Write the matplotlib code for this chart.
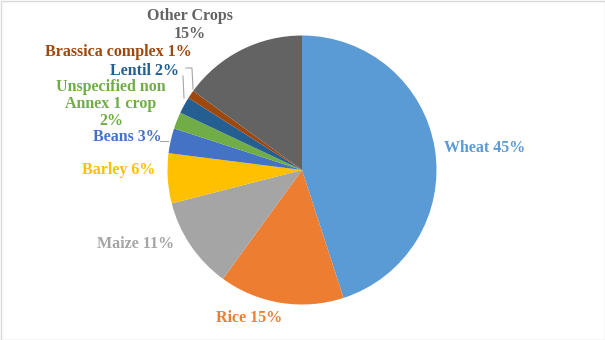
import matplotlib.pyplot as plt
from matplotlib.patches import Rectangle

# crop shares (%), clockwise from 12 o'clock
crops = ['Wheat', 'Rice', 'Maize', 'Barley', 'Beans',
         'Unspecified non\nAnnex 1 crop\n', 'Lentil', 'Brassica complex', 'Other Crops\n']
shares = [45, 15, 11, 6, 3, 2, 2, 1, 15]
colors = ['#5B9BD5', '#ED7D31', '#A5A5A5', '#FFC000', '#4472C4',
          '#70AD47', '#255E91', '#9E480E', '#636363']

# label positions in pixels (x, y from top)
label_pos = [(485, 148), (249, 318), (136, 244), (119, 170), (127, 137),
             (111, 104), (145, 71), (118, 52), (190, 25)]

W, H = 605, 340
fig = plt.figure(figsize=(W / 100, H / 100), dpi=100)
ax = fig.add_axes([0, 0, 1, 1])

ax.pie(shares, colors=colors, startangle=90, counterclock=False,
       center=(302, H - 170), radius=134.5, frame=True,
       wedgeprops=dict(linewidth=0))
ax.set_xlim(0, W)
ax.set_ylim(0, H)
ax.set_aspect('equal')
ax.axis('off')

for name, val, c, (x, y) in zip(crops, shares, colors, label_pos):
    txt = f'{name} {val}%' if not name.endswith('\n') else f'{name}{val}%'
    ax.text(x, H - y, txt, color=c, ha='center', va='center',
            fontsize=11.5, fontweight='bold', family='Liberation Serif',
            linespacing=1.12)

# leader lines
lc = '#A6A6A6'
ax.plot([160, 168], [H - 141, H - 141], color=lc, lw=0.8)
ax.plot([183, 184], [H - 76, H - 98], color=lc, lw=0.8)
ax.plot([186, 192, 193], [H - 68, H - 68, H - 89], color=lc, lw=0.8)

# chart border
fig.patches.append(Rectangle((0.5, 0.5), W - 1, H - 1, transform=None,
                             fill=False, edgecolor='#D9D9D9', lw=1))

fig.savefig('out.png', dpi=100)
